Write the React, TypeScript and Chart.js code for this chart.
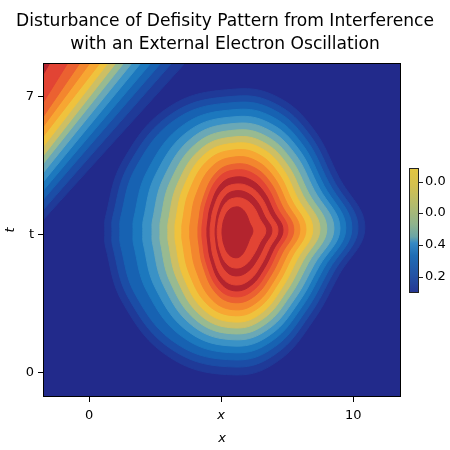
import React, { useEffect, useRef } from 'react';
import { Chart, registerables } from 'chart.js';

Chart.register(...registerables);

// ---------------- text ----------------
const titleLines = [
  'Disturbance of Defisity Pattern from Interference',
  'with an External Electron Oscillation',
];
const xAxisTitle = 'x';
const yAxisTitle = 't';
const xTickValues = [0, 5, 10];
const xTickLabels = ['0', 'x', '10'];
const yTickValues = [0, 3.5, 7];
const yTickLabels = ['0', 't', '7'];
const xRange = [-1.75, 11.81];
const yRange = [-0.61, 7.86];

// ---------------- contour level colours (0 = background) ----------------
const levelColors = [
  '#222a8b', '#1f3a98', '#1b4da6', '#1762b2', '#1c78be',
  '#3a92c6', '#6aa8b6', '#98ba91', '#cdbf64', '#efc23d',
  '#f7a632', '#f3862e', '#eb6131', '#e24434', '#b3242e',
];

// ---------------- central peak contours (outer -> inner) ----------------
const peakCenter = [5.56, 3.58];
const peakLevels = [1, 2, 3, 4, 5, 6, 7, 8, 9, 10, 11, 12, 13, 14, 13, 14, 13, 14];
const peakLeftX = [0.59, 0.86, 1.16, 1.66, 2.03, 2.38, 2.68, 2.98, 3.25, 3.51, 3.81, 4.12, 4.27, 4.46, 4.58, 4.77, 4.85, 5.03];
const peakRightX = [10.44, 10.18, 9.95, 9.72, 9.5, 9.27, 9.0, 8.74, 8.47, 8.21, 7.98, 7.75, 7.53, 7.34, 7.15, 6.92, 6.69, 6.2];
const peakTopT = [7.2, 7.02, 6.86, 6.68, 6.5, 6.33, 6.16, 5.99, 5.83, 5.66, 5.48, 5.3, 5.15, 4.97, 4.79, 4.62, 4.44, 4.21];
const peakBottomT = [-0.05, 0.15, 0.33, 0.51, 0.68, 0.84, 0.99, 1.14, 1.29, 1.45, 1.6, 1.78, 1.93, 2.08, 2.23, 2.46, 2.66, 2.92];
// outline profile of the tear-drop (fraction of the extents, starting at the left)
const peakProfileU = [-1, -0.995, -0.86, -0.5, 0, 0.33, 0.6, 0.8, 1, 0.8, 0.6, 0.33, 0, -0.5, -0.86, -0.995];
const peakProfileV = [0, 0.1, 0.5, 0.88, 1, 0.94, 0.72, 0.38, 0.03, -0.3, -0.62, -0.9, -1, -0.88, -0.5, -0.1];

// ---------------- upper-left ridge contours (outer -> inner) ----------------
const ridgeLevels = [1, 2, 3, 4, 5, 6, 7, 8, 9, 10, 11, 12, 13, 14];
const ridgeLeftT = [3.88, 4.13, 4.39, 4.62, 4.84, 5.07, 5.3, 5.5, 5.73, 5.99, 6.24, 6.49, 6.85, 7.56];
const ridgeTopX = [3.63, 3.13, 2.72, 2.34, 1.96, 1.62, 1.31, 1.01, 0.71, 0.41, 0.03, -0.35, -0.81, -1.49];

// ---------------- colour bar ----------------
const colorbarTickValues = [0.13, 0.385, 0.64, 0.89];
const colorbarTickLabels = ['0.2', '0.4', '0.0', '0.0'];
const colorbarStops: [number, string][] = [
  [0, '#263592'], [0.14, '#2452a4'], [0.3, '#1f6db5'], [0.4, '#3589c4'],
  [0.45, '#6aa5a6'], [0.55, '#8fb48d'], [0.7, '#b2bb6e'], [0.86, '#d4c04f'], [1, '#e3c640'],
];

const FONT = 'DejaVu Sans';

function buildDatasets() {
  const sets: any[] = [];
  const [x0] = xRange;
  const t1 = yRange[1];
  ridgeLevels.forEach((lvl, i) => {
    const a = { x: x0, y: ridgeLeftT[i] };
    const b = { x: ridgeTopX[i], y: t1 };
    const dx = b.x - a.x;
    const dy = b.y - a.y;
    const pts = [
      { x: a.x - 0.6 * dx, y: a.y - 0.6 * dy },
      a,
      b,
      { x: b.x + 0.6 * dx, y: b.y + 0.6 * dy },
      { x: x0 - 8, y: t1 + 8 },
      { x: a.x - 0.6 * dx, y: a.y - 0.6 * dy },
    ];
    sets.push({ data: pts, color: levelColors[lvl], tension: 0 });
  });
  const [cx, ct] = peakCenter;
  peakLevels.forEach((lvl, i) => {
    const pts = peakProfileU.map((u, k) => {
      const v = peakProfileV[k];
      const x = cx + u * (u >= 0 ? peakRightX[i] - cx : cx - peakLeftX[i]);
      const y = ct + v * (v >= 0 ? peakTopT[i] - ct : ct - peakBottomT[i]);
      return { x, y };
    });
    pts.push({ ...pts[0] });
    sets.push({ data: pts, color: levelColors[lvl], tension: 0.4 });
  });
  const total = sets.length;
  return sets.map((s, i) => ({
    data: s.data,
    showLine: true,
    fill: 'shape',
    clip: 0,
    backgroundColor: s.color,
    borderColor: s.color,
    borderWidth: 1,
    pointRadius: 0,
    pointHoverRadius: 0,
    tension: s.tension,
    order: total - i,
  }));
}

const decorPlugin = {
  id: 'decor',
  beforeDatasetsDraw(chart: any) {
    const { ctx, chartArea: a } = chart;
    ctx.save();
    ctx.fillStyle = levelColors[0];
    ctx.fillRect(a.left, a.top, a.right - a.left, a.bottom - a.top);
    ctx.restore();
  },
  afterDatasetsDraw(chart: any) {
    const { ctx, chartArea: a } = chart;
    ctx.save();
    ctx.strokeStyle = '#000';
    ctx.lineWidth = 1;
    ctx.strokeRect(a.left + 0.5, a.top + 0.5, a.right - a.left - 1, a.bottom - a.top - 1);

    // colour bar
    const left = a.right + 8;
    const w = 10;
    const top = a.top + 105;
    const bottom = a.top + 230;
    const g = ctx.createLinearGradient(0, bottom, 0, top);
    colorbarStops.forEach(([p, c]) => g.addColorStop(p, c));
    ctx.fillStyle = g;
    ctx.fillRect(left, top, w, bottom - top);
    ctx.strokeStyle = '#222';
    ctx.lineWidth = 1;
    ctx.strokeRect(left + 0.5, top + 0.5, w - 1, bottom - top - 1);
    ctx.fillStyle = '#000';
    ctx.font = `13px "${FONT}"`;
    ctx.textAlign = 'left';
    ctx.textBaseline = 'middle';
    colorbarTickValues.forEach((v, i) => {
      const y = bottom - v * (bottom - top);
      ctx.beginPath();
      ctx.moveTo(left + w, Math.round(y) + 0.5);
      ctx.lineTo(left + w + 4, Math.round(y) + 0.5);
      ctx.stroke();
      ctx.fillText(colorbarTickLabels[i], left + w + 6, y);
    });
    ctx.restore();
  },
};

export default function App() {
  const ref = useRef<HTMLCanvasElement | null>(null);
  useEffect(() => {
    if (!ref.current) return;
    Chart.defaults.font.family = FONT;
    const chart = new Chart(ref.current, {
      type: 'scatter',
      data: { datasets: buildDatasets() as any },
      options: {
        animation: false,
        responsive: false,
        devicePixelRatio: 1,
        events: [],
        layout: { padding: 0 },
        elements: { line: { capBezierPoints: false } },
        plugins: {
          legend: { display: false },
          tooltip: { enabled: false },
          title: {
            display: true,
            text: titleLines,
            color: '#000',
            font: { family: FONT, size: 17.1, weight: 'normal', lineHeight: '23px' },
            padding: { top: 10, bottom: 7 },
          },
        },
        scales: {
          x: {
            type: 'linear',
            min: xRange[0],
            max: xRange[1],
            afterBuildTicks: (s: any) => { s.ticks = xTickValues.map((v) => ({ value: v })); },
            afterFit: (s: any) => { s.height = 53; },
            ticks: {
              color: '#000',
              padding: 6,
              maxRotation: 0,
              autoSkip: false,
              callback: (v: any) => xTickLabels[xTickValues.indexOf(Number(v))],
              font: (c: any) => ({ family: FONT, size: 13, style: c.tick && c.tick.label === 'x' ? 'italic' : 'normal' }),
            },
            grid: { display: true, drawOnChartArea: false, drawTicks: true, tickLength: 5, color: '#000' },
            border: { display: false },
            title: { display: true, text: xAxisTitle, color: '#000', font: { family: FONT, size: 13, style: 'italic' }, padding: { top: 0, bottom: 4 } },
          },
          y: {
            type: 'linear',
            min: yRange[0],
            max: yRange[1],
            afterBuildTicks: (s: any) => { s.ticks = yTickValues.map((v) => ({ value: v })); },
            afterFit: (s: any) => { s.width = 43; },
            ticks: {
              color: '#000',
              padding: 4,
              autoSkip: false,
              callback: (v: any) => yTickLabels[yTickValues.indexOf(Number(v))],
              font: { family: FONT, size: 13 },
            },
            grid: { display: true, drawOnChartArea: false, drawTicks: true, tickLength: 5, color: '#000' },
            border: { display: false },
            title: { display: true, text: yAxisTitle, color: '#000', font: { family: FONT, size: 13, style: 'italic' }, padding: { top: 3, bottom: 0 } },
          },
          cbSpace: {
            type: 'linear',
            position: 'right',
            display: true,
            min: 0,
            max: 1,
            ticks: { display: false },
            grid: { display: false },
            border: { display: false },
            afterFit: (s: any) => { s.width = 49; },
          },
        },
      } as any,
      plugins: [decorPlugin],
    });
    return () => chart.destroy();
  }, []);
  return (
    <div style={{ position: 'fixed', left: 0, top: 0, width: 450, height: 450, background: '#fff' }}>
      <canvas ref={ref} width={450} height={450} style={{ display: 'block' }} />
    </div>
  );
}
